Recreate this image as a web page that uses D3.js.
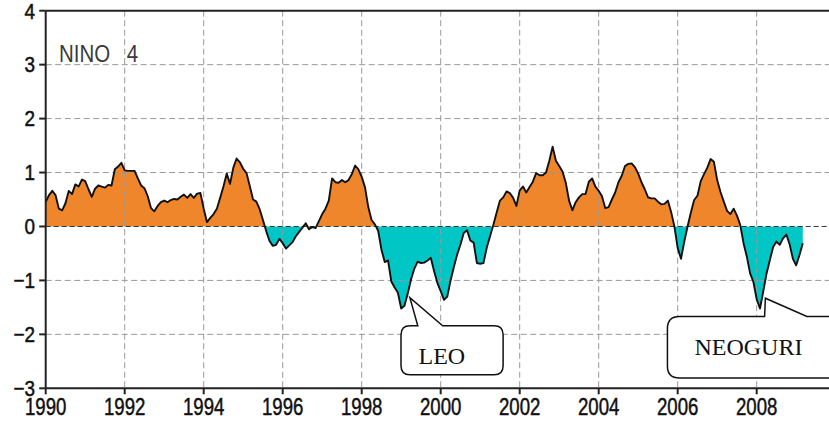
<!DOCTYPE html>
<html>
<head>
<meta charset="utf-8">
<script src="https://cdn.jsdelivr.net/npm/d3@7/dist/d3.min.js"></script>
<style>
  html, body { margin: 0; padding: 0; background: #ffffff; }
  svg { display: block; }
</style>
</head>
<body>
<svg id="chart" width="829" height="423"></svg>
<script>
// ---- DATA (monthly NINO 4 index, Jan 1990 – Mar 2009) ----
const startYear = 1990;
const values = [
  0.45, 0.58, 0.66, 0.58, 0.33, 0.30, 0.43, 0.66, 0.60, 0.78, 0.74, 0.87,
  0.84, 0.69, 0.55, 0.70, 0.76, 0.74, 0.72, 0.77, 0.76, 1.06, 1.11, 1.18,
  1.04, 1.03, 1.03, 1.03, 0.89, 0.76, 0.71, 0.56, 0.34, 0.28, 0.38, 0.45,
  0.48, 0.45, 0.49, 0.51, 0.50, 0.55, 0.59, 0.53, 0.60, 0.53, 0.61, 0.62,
  0.33, 0.08, 0.16, 0.23, 0.33, 0.53, 0.74, 0.98, 0.79, 1.09, 1.26, 1.19,
  1.07, 0.99, 0.75, 0.50, 0.46, 0.32, 0.12, -0.09, -0.27, -0.36, -0.34, -0.23,
  -0.31, -0.41, -0.35, -0.29, -0.18, -0.10, -0.02, 0.06, -0.05, -0.01, -0.03, 0.10,
  0.23, 0.33, 0.48, 0.89, 0.82, 0.81, 0.86, 0.82, 0.86, 0.97, 1.13, 1.06,
  0.92, 0.73, 0.36, 0.12, 0.04, -0.08, -0.43, -0.66, -0.63, -1.02, -1.13, -1.23,
  -1.52, -1.47, -1.24, -0.98, -0.78, -0.65, -0.68, -0.67, -0.63, -0.58, -0.83, -1.05,
  -1.20, -1.36, -1.30, -1.00, -0.75, -0.52, -0.34, -0.12, -0.07, -0.26, -0.30, -0.68,
  -0.69, -0.68, -0.39, -0.18, 0.03, 0.26, 0.48, 0.54, 0.65, 0.62, 0.53, 0.38,
  0.67, 0.74, 0.63, 0.73, 0.83, 0.99, 0.95, 0.95, 1.00, 1.22, 1.48, 1.22,
  1.12, 1.02, 0.81, 0.48, 0.30, 0.45, 0.54, 0.60, 0.60, 0.83, 0.89, 0.74,
  0.66, 0.56, 0.34, 0.36, 0.50, 0.63, 0.82, 0.94, 1.12, 1.16, 1.17, 1.10,
  0.98, 0.82, 0.69, 0.54, 0.52, 0.52, 0.46, 0.41, 0.42, 0.48, 0.27, 0.00,
  -0.40, -0.60, -0.28, 0.00, 0.26, 0.49, 0.57, 0.84, 0.97, 1.09, 1.25, 1.20,
  0.86, 0.64, 0.46, 0.29, 0.23, 0.33, 0.20, 0.03, -0.31, -0.56, -0.87, -1.03,
  -1.35, -1.52, -1.20, -0.87, -0.62, -0.38, -0.28, -0.34, -0.22, -0.15, -0.33, -0.60,
  -0.72, -0.53, -0.31
];
const xTickYears = [1990, 1992, 1994, 1996, 1998, 2000, 2002, 2004, 2006, 2008];
const yTickValues = [-3, -2, -1, 0, 1, 2, 3, 4];
const titleWords = ["NINO", "4"];
const calloutLabels = ["LEO", "NEOGURI"];

// ---- LAYOUT ----
const W = 829, H = 423;
const svg = d3.select("#chart");
const x = d3.scaleLinear().domain([1990, 2010]).range([45.7, 835.7]);
const y = d3.scaleLinear().domain([-3, 4]).range([388.3, 10.7]);

const data = values.map((v, i) => ({ t: startYear + i / 12, v }));

const ORANGE = "#F0862C";
const CYAN = "#00C6C6";

// clip paths for positive / negative fill
const defs = svg.append("defs");
defs.append("clipPath").attr("id", "pos").append("rect")
  .attr("x", x(1990)).attr("y", y(4)).attr("width", x(2010) - x(1990)).attr("height", y(0) - y(4));
defs.append("clipPath").attr("id", "neg").append("rect")
  .attr("x", x(1990)).attr("y", y(0)).attr("width", x(2010) - x(1990)).attr("height", y(-3) - y(0));

const area = d3.area().x(d => x(d.t)).y0(y(0)).y1(d => y(d.v));
svg.append("path").datum(data).attr("d", area).attr("fill", ORANGE).attr("clip-path", "url(#pos)");
svg.append("path").datum(data).attr("d", area).attr("fill", CYAN).attr("clip-path", "url(#neg)");

// grid (drawn above fills)
const grid = svg.append("g");
[...xTickYears, 2010].filter(t => t > 1990).forEach(t => {
  grid.append("line").attr("x1", x(t)).attr("x2", x(t)).attr("y1", y(4)).attr("y2", y(-3))
    .attr("stroke", "#999").attr("stroke-width", 1).attr("stroke-dasharray", "6,3.5");
});
yTickValues.filter(v => v > -3 && v < 4).forEach(v => {
  grid.append("line").attr("x1", x(1990)).attr("x2", x(2010)).attr("y1", y(v)).attr("y2", y(v))
    .attr("stroke", v === 0 ? "#333" : "#999").attr("stroke-width", 1)
    .attr("stroke-dasharray", v === 0 ? "5,3" : "6,3.5");
});

// data line
const line = d3.line().x(d => x(d.t)).y(d => y(d.v));
svg.append("path").datum(data).attr("d", line).attr("fill", "none")
  .attr("stroke", "#111").attr("stroke-width", 1.9).attr("stroke-linejoin", "round");

// frame / axes
svg.append("line").attr("x1", x(1990)).attr("x2", W + 10).attr("y1", y(4)).attr("y2", y(4))
  .attr("stroke", "#222").attr("stroke-width", 2);
svg.append("line").attr("x1", x(1990)).attr("x2", W + 10).attr("y1", y(-3)).attr("y2", y(-3))
  .attr("stroke", "#222").attr("stroke-width", 2);
svg.append("line").attr("x1", x(1990)).attr("x2", x(1990)).attr("y1", y(4)).attr("y2", y(-3))
  .attr("stroke", "#222").attr("stroke-width", 2);

// y ticks & labels
const yAxisG = svg.append("g");
yTickValues.forEach(v => {
  yAxisG.append("line").attr("x1", x(1990) - 6.5).attr("x2", x(1990)).attr("y1", y(v)).attr("y2", y(v))
    .attr("stroke", "#222").attr("stroke-width", 2);
  yAxisG.append("text")
    .attr("transform", `translate(35,${y(v) + 7.8}) scale(0.86,1)`)
    .attr("text-anchor", "end")
    .attr("font-family", "Liberation Sans, Arial, sans-serif")
    .attr("font-size", 22).attr("fill", "#111")
    .attr("stroke", "#111").attr("stroke-width", 0.5)
    .text(v < 0 ? "\u2212" + Math.abs(v) : String(v));
});

// x ticks & labels
const xAxisG = svg.append("g");
xTickYears.forEach(t => {
  xAxisG.append("line").attr("x1", x(t)).attr("x2", x(t)).attr("y1", y(-3)).attr("y2", y(-3) + 6)
    .attr("stroke", "#222").attr("stroke-width", 2);
  xAxisG.append("text")
    .attr("transform", `translate(${x(t)},415) scale(0.76,1)`)
    .attr("text-anchor", "middle")
    .attr("font-family", "Liberation Sans, Arial, sans-serif")
    .attr("font-size", 24.5).attr("fill", "#111")
    .attr("stroke", "#111").attr("stroke-width", 0.5)
    .text(String(t));
});

// title
const title = svg.append("text")
  .attr("transform", `translate(59,62) scale(0.89,1)`)
  .attr("font-family", "Liberation Sans, Arial, sans-serif")
  .attr("font-size", 23).attr("fill", "#3a3a3a");
title.append("tspan").attr("x", 0).text(titleWords[0]);
title.append("tspan").attr("x", 76).text(titleWords[1]);

// callouts (rounded box with a pointer on the top edge)
function callout(g, box, ptr, r) {
  const [x0, y0, x1, y1] = box;
  const [bl, apx, apy, br] = ptr;
  const p = d3.path();
  p.moveTo(x0 + r, y0);
  p.lineTo(bl, y0);
  p.lineTo(apx, apy);
  p.lineTo(br, y0);
  p.lineTo(x1 - r, y0);
  p.quadraticCurveTo(x1, y0, x1, y0 + r);
  p.lineTo(x1, y1 - r);
  p.quadraticCurveTo(x1, y1, x1 - r, y1);
  p.lineTo(x0 + r, y1);
  p.quadraticCurveTo(x0, y1, x0, y1 - r);
  p.lineTo(x0, y0 + r);
  p.quadraticCurveTo(x0, y0, x0 + r, y0);
  p.closePath();
  g.append("path").attr("d", p.toString()).attr("fill", "#fff")
    .attr("stroke", "#111").attr("stroke-width", 1.5).attr("stroke-linejoin", "miter");
}
const ann = svg.append("g");
// LEO
callout(ann, [x(1998.995), y(-1.84), x(2001.58), y(-2.75)],
  [x(1999.42), x(1999.22), y(-1.32), x(2000.05)], 9);
ann.append("text").attr("x", x(2000.03)).attr("y", 363.5).attr("text-anchor", "middle")
  .attr("font-family", "Liberation Serif, Times New Roman, serif").attr("font-size", 24)
  .attr("fill", "#111").text(calloutLabels[0]);
// NEOGURI
callout(ann, [x(2005.74), y(-1.67), x(2010.3), y(-2.81)],
  [x(2008.2), x(2008.22), y(-1.33), x(2009.27)], 12);
ann.append("text").attr("x", x(2007.79)).attr("y", 355).attr("text-anchor", "middle")
  .attr("font-family", "Liberation Serif, Times New Roman, serif").attr("font-size", 24)
  .attr("fill", "#111").text(calloutLabels[1]);
</script>
</body>
</html>
